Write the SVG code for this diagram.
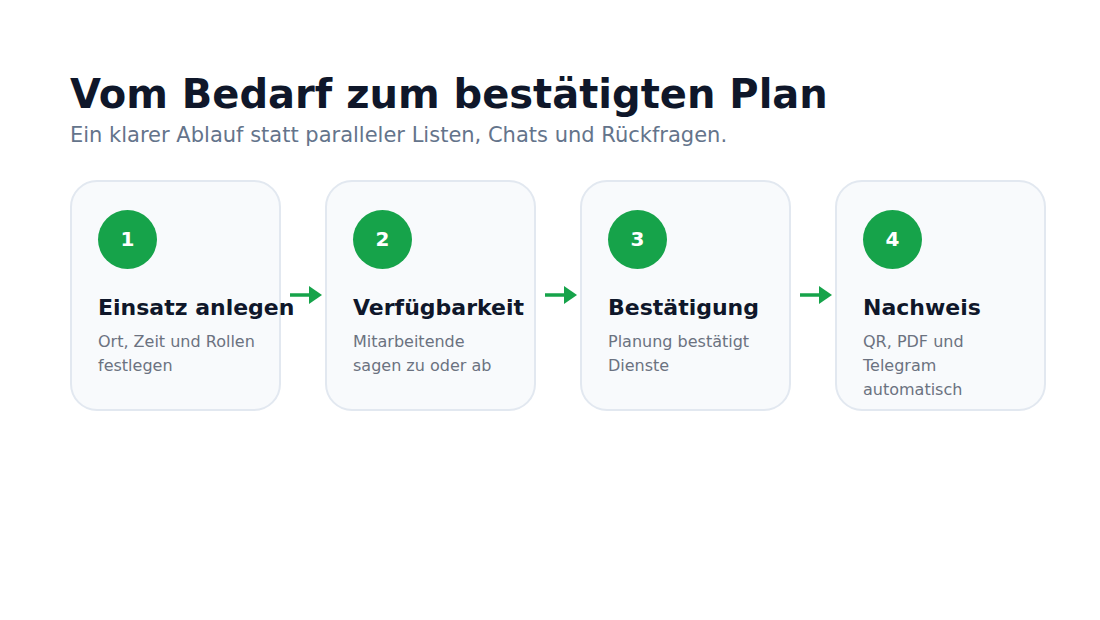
<svg xmlns="http://www.w3.org/2000/svg" width="1100" height="620" viewBox="0 0 1100 620">
<style>
.t{font-family:"DejaVu Sans",sans-serif;}
.h1{font-size:40px;font-weight:bold;fill:#0f172a;}
.sub{font-size:21px;fill:#64748b;}
.card{fill:#f8fafc;stroke:#e2e8f0;stroke-width:2;}
.badge{fill:#16a34a;}
.num{font-size:20px;font-weight:bold;fill:#ffffff;text-anchor:middle;}
.ttl{font-size:22px;font-weight:bold;fill:#0f172a;}
.desc{font-size:16px;fill:#6b7280;}
.conn{stroke:#16a34a;stroke-width:3.5;fill:none;}
</style>
<defs>
<marker id="ah" viewBox="0 0 13 18" refX="0" refY="9" markerWidth="13" markerHeight="18" markerUnits="userSpaceOnUse" orient="auto">
<path d="M0,0 L13,9 L0,18 z" fill="#16a34a"/>
</marker>
</defs>
<rect width="1100" height="620" fill="#ffffff"/>
<g id="header">
<text class="t h1" x="70" y="108">Vom Bedarf zum bestätigten Plan</text>
<text class="t sub" x="70" y="142">Ein klarer Ablauf statt paralleler Listen, Chats und Rückfragen.</text>
</g>
<g id="step1">
<rect class="card" x="71" y="181" width="209" height="229" rx="26"/>
<circle class="badge" cx="127.5" cy="239.5" r="29.5"/>
<text class="t num" x="127.5" y="246">1</text>
<text class="t ttl" x="98" y="315">Einsatz anlegen</text>
<text class="t desc" x="98" y="347">Ort, Zeit und Rollen</text>
<text class="t desc" x="98" y="371">festlegen</text>
</g>
<g id="step2">
<rect class="card" x="326" y="181" width="209" height="229" rx="26"/>
<circle class="badge" cx="382.5" cy="239.5" r="29.5"/>
<text class="t num" x="382.5" y="246">2</text>
<text class="t ttl" x="353" y="315">Verfügbarkeit</text>
<text class="t desc" x="353" y="347">Mitarbeitende</text>
<text class="t desc" x="353" y="371">sagen zu oder ab</text>
</g>
<g id="step3">
<rect class="card" x="581" y="181" width="209" height="229" rx="26"/>
<circle class="badge" cx="637.5" cy="239.5" r="29.5"/>
<text class="t num" x="637.5" y="246">3</text>
<text class="t ttl" x="608" y="315">Bestätigung</text>
<text class="t desc" x="608" y="347">Planung bestätigt</text>
<text class="t desc" x="608" y="371">Dienste</text>
</g>
<g id="step4">
<rect class="card" x="836" y="181" width="209" height="229" rx="26"/>
<circle class="badge" cx="892.5" cy="239.5" r="29.5"/>
<text class="t num" x="892.5" y="246">4</text>
<text class="t ttl" x="863" y="315">Nachweis</text>
<text class="t desc" x="863" y="347">QR, PDF und</text>
<text class="t desc" x="863" y="371">Telegram</text>
<text class="t desc" x="863" y="395">automatisch</text>
</g>
<g id="connectors">
<line class="conn" x1="290" y1="295" x2="309" y2="295" marker-end="url(#ah)"/>
<line class="conn" x1="545" y1="295" x2="564" y2="295" marker-end="url(#ah)"/>
<line class="conn" x1="800" y1="295" x2="819" y2="295" marker-end="url(#ah)"/>
</g>
</svg>
